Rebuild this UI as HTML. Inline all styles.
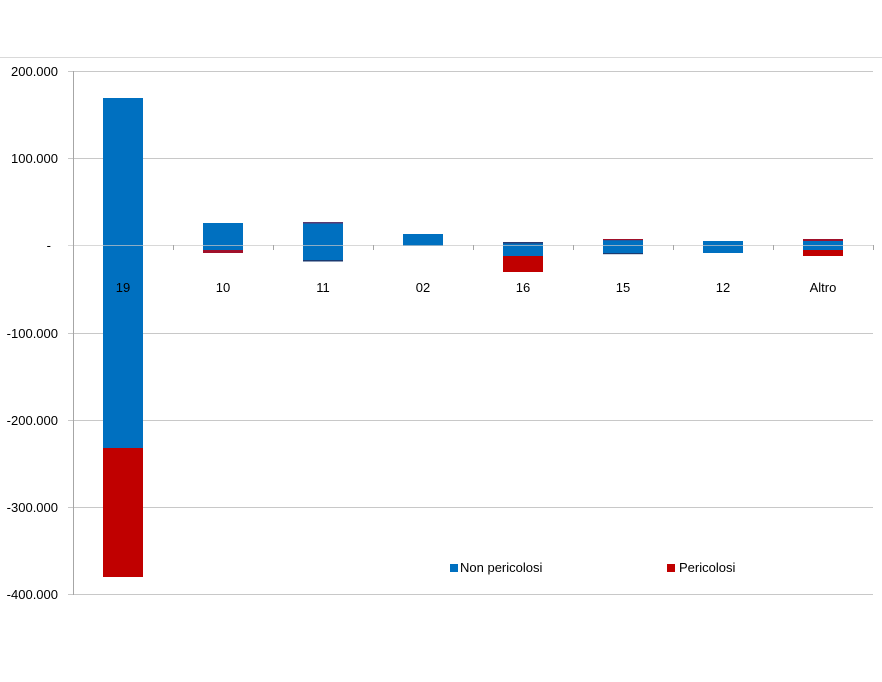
<!DOCTYPE html>
<html><head><meta charset="utf-8"><style>body{margin:0;background:#fff}svg{display:block}text{font-family:"Liberation Sans",sans-serif;font-size:13px;fill:#000}</style></head><body>
<svg width="882" height="682" viewBox="0 0 882 682">
<line x1="0" y1="57.5" x2="882" y2="57.5" stroke="#d9d9d9"/>
<g stroke="#c8c8c8" stroke-width="1">
<line x1="68" y1="71.5" x2="873" y2="71.5"/>
<line x1="68" y1="158.5" x2="873" y2="158.5"/>
<line x1="68" y1="333.5" x2="873" y2="333.5"/>
<line x1="68" y1="420.5" x2="873" y2="420.5"/>
<line x1="68" y1="507.5" x2="873" y2="507.5"/>
<line x1="68" y1="594.5" x2="873" y2="594.5"/>
</g>
<g>
<rect x="103" y="98" width="40" height="350" fill="#0070c0"/>
<rect x="103" y="448" width="40" height="129" fill="#c00000"/>
<rect x="203" y="223" width="40" height="27" fill="#0070c0"/>
<rect x="203" y="250" width="40" height="3" fill="#a0102a"/>
<rect x="303" y="222" width="40" height="39" fill="#0070c0"/>
<rect x="303" y="222" width="40" height="1.5" fill="#5a3a70"/>
<rect x="303" y="260" width="40" height="1.5" fill="#1a3a70"/>
<rect x="403" y="234" width="40" height="12" fill="#0070c0"/>
<rect x="503" y="242" width="40" height="14" fill="#0070c0"/>
<rect x="503" y="242" width="40" height="1.5" fill="#2a3a70"/>
<rect x="503" y="256" width="40" height="16" fill="#c00000"/>
<rect x="603" y="239" width="40" height="15" fill="#0070c0"/>
<rect x="603" y="239" width="40" height="1.2" fill="#a0102a"/>
<rect x="603" y="253" width="40" height="1.2" fill="#1a3a70"/>
<rect x="703" y="241" width="40" height="12" fill="#0070c0"/>
<rect x="803" y="239" width="40" height="2" fill="#a0102a"/>
<rect x="803" y="241" width="40" height="9" fill="#0070c0"/>
<rect x="803" y="250" width="40" height="6" fill="#c00000"/>
</g>
<line x1="68" y1="245.5" x2="873" y2="245.5" stroke="#c8c8c8" stroke-opacity="0.7"/>
<line x1="73.5" y1="71" x2="73.5" y2="595" stroke="#a6a6a6"/>
<g stroke="#a6a6a6">
<line x1="173.5" y1="245" x2="173.5" y2="250"/><line x1="273.5" y1="245" x2="273.5" y2="250"/>
<line x1="373.5" y1="245" x2="373.5" y2="250"/><line x1="473.5" y1="245" x2="473.5" y2="250"/>
<line x1="573.5" y1="245" x2="573.5" y2="250"/><line x1="673.5" y1="245" x2="673.5" y2="250"/>
<line x1="773.5" y1="245" x2="773.5" y2="250"/><line x1="873.5" y1="245" x2="873.5" y2="250"/>
</g>
<g text-anchor="end">
<text x="58" y="76">200.000</text><text x="58" y="163">100.000</text><text x="51" y="250">-</text>
<text x="58" y="338">-100.000</text><text x="58" y="425">-200.000</text><text x="58" y="512">-300.000</text><text x="58" y="599">-400.000</text>
</g>
<g text-anchor="middle">
<text x="123" y="292">19</text><text x="223" y="292">10</text><text x="323" y="292">11</text><text x="423" y="292">02</text>
<text x="523" y="292">16</text><text x="623" y="292">15</text><text x="723" y="292">12</text><text x="823" y="292">Altro</text>
</g>
<rect x="450" y="564" width="8" height="8" fill="#0070c0"/><text x="460" y="572">Non pericolosi</text>
<rect x="667" y="564" width="8" height="8" fill="#c00000"/><text x="679" y="572">Pericolosi</text>
</svg>
</body></html>
